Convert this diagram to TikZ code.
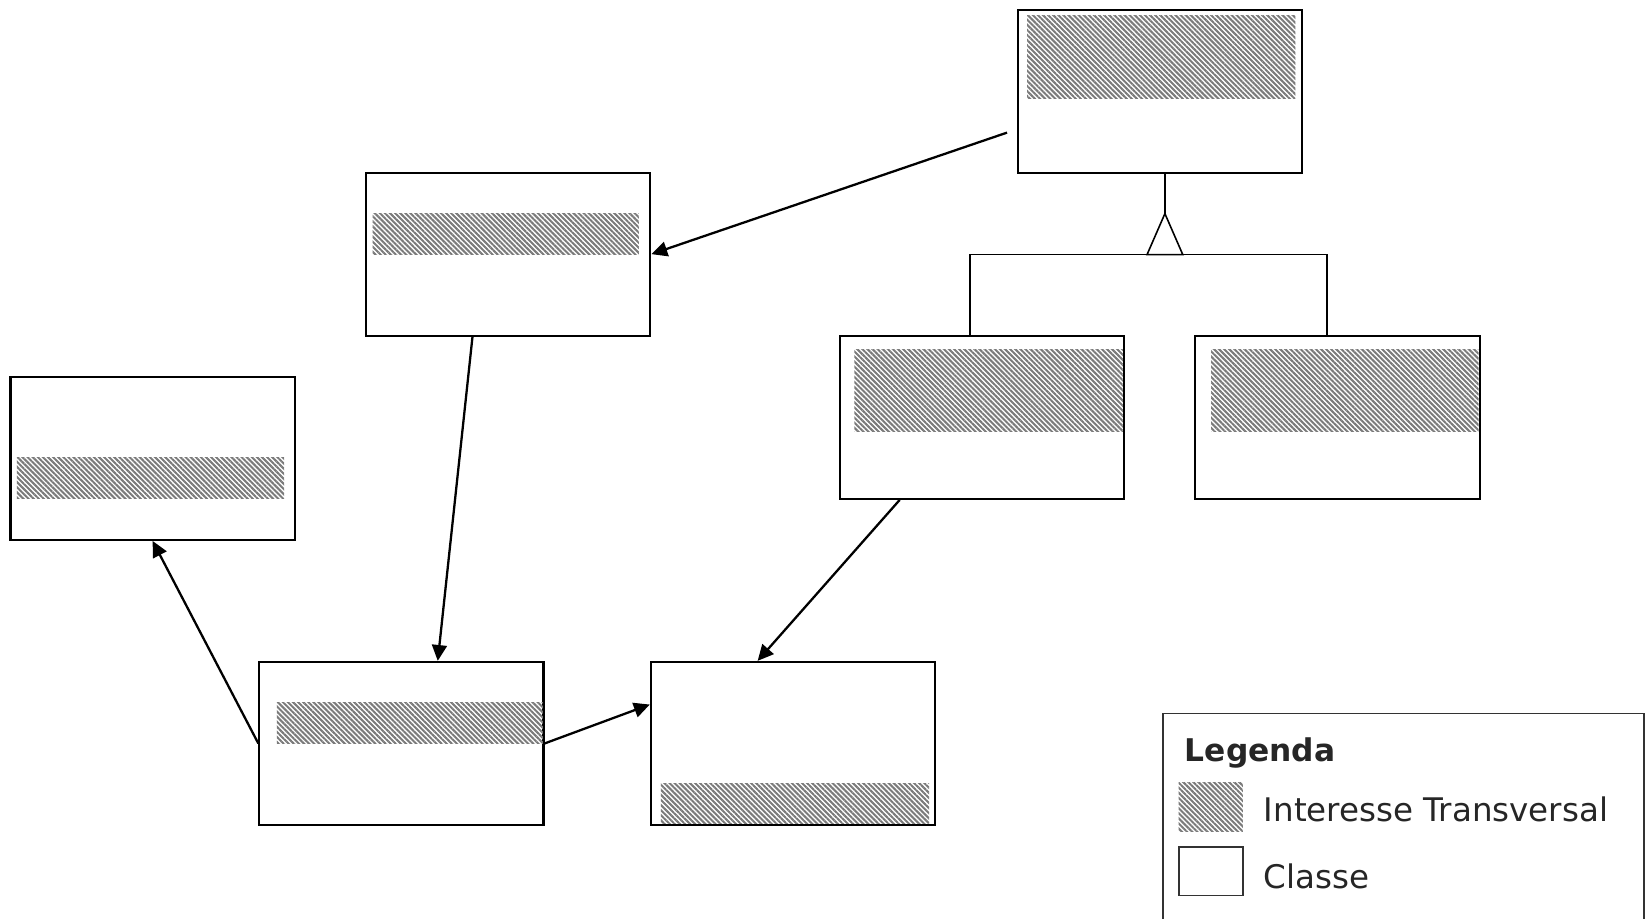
\documentclass[tikz,border=0pt]{standalone}
\usepackage{fontspec}
\setmainfont{DejaVu Sans}
\usetikzlibrary{arrows.meta,patterns.meta,calc,positioning}
\definecolor{texto}{HTML}{262626}
\definecolor{borda}{HTML}{333333}
\definecolor{listra}{HTML}{7A7A7A}
\begin{document}
\begin{tikzpicture}[x=0.021046cm,y=-0.021046cm,line width=1.2pt]
\tikzstyle{classe}=[draw, rectangle, fill=white, inner sep=0pt, minimum width=5.682cm, minimum height=3.262cm]
\tikzstyle{hatch}=[pattern={Lines[angle=-45,distance=2.05pt,line width=1.15pt]}, pattern color=listra]
\tikzstyle{seta}=[line width=1.3pt, -{Triangle[length=9pt,width=8.5pt]}]
\tikzstyle{amostra}=[rectangle, inner sep=0pt, minimum width=1.284cm, minimum height=0.968cm]

\useasboundingbox (0,0) rectangle (1568,873);

\node[classe] (top) at (1102, 87) {};
\node[classe] (mid) at ( 483,241.5) {};
\node[classe] (left) at ( 145,435.5) {};
\node[classe] (r1) at ( 933,396.5) {};
\node[classe] (r2) at (1271,396.5) {};
\node[classe] (bl) at (381.5,706.5) {};
\node[classe] (bm) at (753.5,706.5) {};

\fill[hatch] ( 976, 15) rectangle (1231, 94);
\fill[hatch] ( 354,203) rectangle ( 607,242);
\fill[hatch] (  16,435) rectangle ( 270,474);
\fill[hatch] ( 812,332) rectangle (1067,410);
\fill[hatch] (1151,332) rectangle (1405,410);
\fill[hatch] ( 263,668) rectangle ( 516,707);
\fill[hatch] ( 628,745) rectangle ( 883,783);

\coordinate (q) at (957,126);
\coordinate (base) at (1107,242);

\draw[seta] (q) -- (mid.east);
\draw[seta] ($(mid.south)+(-34,0)$) -- ($(bl.north)+(34.5,0)$);
\draw[seta] (bl.west) -- (left.south);
\draw[seta] (bl.east) -- ($(bm.west)+(0,-37)$);
\draw[seta] ($(r1.south)+(-78,0)$) -- ($(bm.north)+(-33.5,0)$);

\draw[line width=0.9pt] ($(r1.north)+(-11,0)$) |- (base) -| ($(r2.north)+(-10,0)$);
\draw[line width=0.9pt] (top.south -| base) -- ($(base)+(0,-39)$);
\draw[line width=0.9pt, fill=white] ($(base)+(-17,0)$) -- ($(base)+(0,-39)$) -- ($(base)+(17,0)$) -- cycle;

\draw[borda, line width=1.1pt] (1105,874) |- (1562,678) -- (1562,874);
\node[texto, anchor=base west, inner sep=0pt, font=\fontsize{17.8}{20}\selectfont\bfseries] (leg) at (1125,724) {Legenda};
\node[amostra, hatch] (s1) at (1150.5,767) {};
\node[amostra, draw=borda, line width=1.1pt] (s2) at (1150.5,828) {};
\node[texto, anchor=base west, inner sep=0pt, font=\fontsize{18.5}{21}\selectfont] (t1) at (1200,781) {Interesse Transversal};
\node[texto, anchor=base west, inner sep=0pt, font=\fontsize{18.5}{21}\selectfont] (t2) at (1200,844) {Classe};

\end{tikzpicture}
\end{document}
